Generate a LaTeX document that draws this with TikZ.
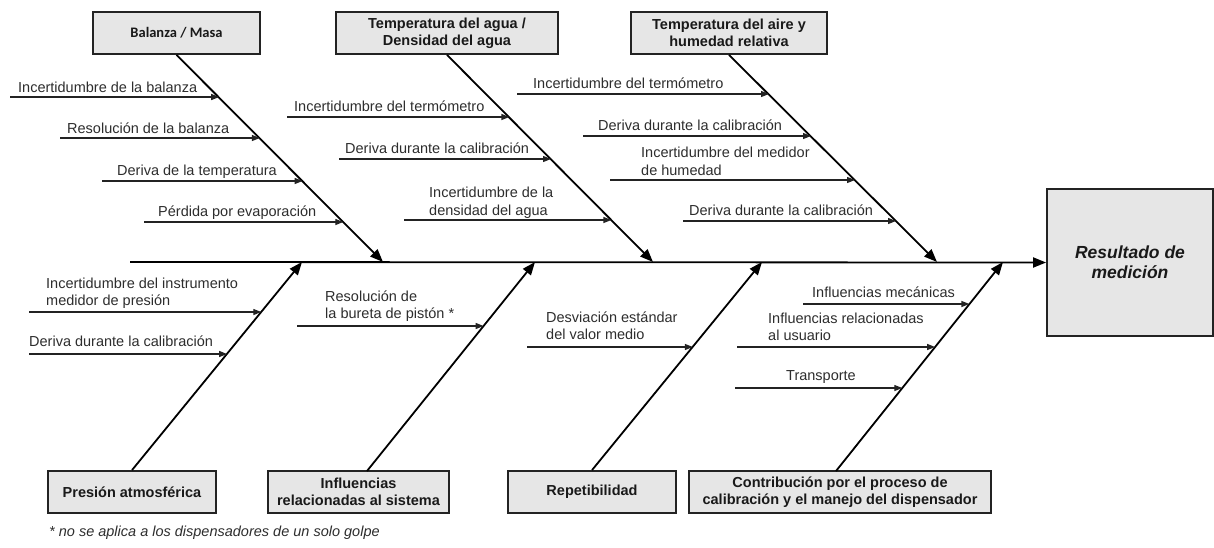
\documentclass[tikz,border=0pt]{standalone}
\usepackage{fontspec}
\setmainfont{Liberation Sans}
\newfontfamily\calibrifont{Carlito}
\usetikzlibrary{arrows.meta}
\definecolor{boxfill}{RGB}{230,230,230}
\definecolor{ink}{RGB}{35,35,35}
\definecolor{labink}{RGB}{45,45,45}
\tikzset{
  catbox/.style={draw=ink, line width=1.8pt, fill=boxfill, align=center, inner sep=0pt,
    font=\fontsize{14.5}{17}\selectfont\bfseries, text=black!90},
  mainarrow/.style={draw=black, line width=1.8pt, -{Triangle[length=13pt,width=10pt]}},
  subarrow/.style={draw=ink, line width=1.2pt, -{Triangle[length=8pt,width=6pt]}},
  lab/.style={anchor=south west, inner sep=0pt, text depth=0pt, align=left,
    font=\fontsize{14.5}{17.5}\selectfont, text=labink}
}
\begin{document}
\begin{tikzpicture}[x=1pt,y=-1pt]
\useasboundingbox (0,0) rectangle (1214,547);

% ---------- boxes ----------
\node[catbox, minimum width=167pt, minimum height=42pt, font=\fontsize{14.5}{17}\selectfont\calibrifont\bfseries] (b1) at (176.5,33) {Balanza / Masa};
\node[catbox, minimum width=222pt, minimum height=42pt] (b2) at (447,33) {Temperatura del agua /\\Densidad del agua};
\node[catbox, minimum width=196pt, minimum height=42pt] (b3) at (729,33) {Temperatura del aire y\\humedad relativa};

\node[catbox, minimum width=168pt, minimum height=42pt] (c1) at (132,492) {Presión atmosférica};
\node[catbox, minimum width=181pt, minimum height=42pt] (c2) at (358.5,492) {Influencias\\relacionadas al sistema};
\node[catbox, minimum width=168pt, minimum height=42pt] (c3) at (592,492) {Repetibilidad};
\node[catbox, minimum width=302pt, minimum height=42pt] (c4) at (840,492) {Contribución por el proceso de\\calibración y el manejo del dispensador};

\node[catbox, minimum width=166pt, minimum height=147pt, font=\fontsize{17.5}{20}\selectfont\bfseries\itshape] (res) at (1130,262.5) {Resultado de\\medición};

% ---------- spine ----------
\coordinate (s0) at (130,262);
\draw[mainarrow] (s0) -- (res.west);

% tips on the spine
\coordinate (t1) at (383,262);
\coordinate (t2) at (653,262);
\coordinate (t3) at (937,262);
\coordinate (u1) at (302,262);
\coordinate (u2) at (535,262);
\coordinate (u3) at (762,262);
\coordinate (u4) at (1003,262);
\coordinate (c2o) at (367,471);
\coordinate (c4o) at (836,471);

\draw[mainarrow] (b1.south) -- (t1);
\draw[mainarrow] (b2.south) -- (t2);
\draw[mainarrow] (b3.south) -- (t3);
\draw[mainarrow] (c1.north) -- (u1);
\draw[mainarrow] (c2o) -- (u2);
\draw[mainarrow] (c3.north) -- (u3);
\draw[mainarrow] (c4o) -- (u4);

% ---------- Balanza / Masa ----------
\coordinate (a11) at (10,97);   \coordinate (e11) at (219.2,97);
\coordinate (a12) at (60,138);  \coordinate (e12) at (259.9,138);
\coordinate (a13) at (102,181); \coordinate (e13) at (302.6,181);
\coordinate (a14) at (144,222); \coordinate (e14) at (343.3,222);
\draw[subarrow] (a11) -- (e11);
\draw[subarrow] (a12) -- (e12);
\draw[subarrow] (a13) -- (e13);
\draw[subarrow] (a14) -- (e14);
\node[lab] (l11) at (18,93) {Incertidumbre de la balanza};
\node[lab] (l12) at (67,134) {Resolución de la balanza};
\node[lab] (l13) at (117,176) {Deriva de la temperatura};
\node[lab] (l14) at (158,217) {Pérdida por evaporación};

% ---------- Temperatura del agua ----------
\coordinate (a21) at (287,117); \coordinate (e21) at (509.4,117);
\coordinate (a22) at (339,159); \coordinate (e22) at (551,159);
\coordinate (a23) at (404,220); \coordinate (e23) at (611.4,220);
\draw[subarrow] (a21) -- (e21);
\draw[subarrow] (a22) -- (e22);
\draw[subarrow] (a23) -- (e23);
\node[lab] (l21) at (294,112) {Incertidumbre del termómetro};
\node[lab] (l22) at (345,154) {Deriva durante la calibración};
\node[lab] (l23) at (429,215.5) {Incertidumbre de la\\densidad del agua};

% ---------- Temperatura del aire ----------
\coordinate (a31) at (517,94);  \coordinate (e31) at (769,94);
\coordinate (a32) at (583,136); \coordinate (e32) at (811,136);
\coordinate (a33) at (610,180); \coordinate (e33) at (855,180);
\coordinate (a34) at (683,221); \coordinate (e34) at (896,221);
\draw[subarrow] (a31) -- (e31);
\draw[subarrow] (a32) -- (e32);
\draw[subarrow] (a33) -- (e33);
\draw[subarrow] (a34) -- (e34);
\node[lab] (l31) at (533,89) {Incertidumbre del termómetro};
\node[lab] (l32) at (598,131) {Deriva durante la calibración};
\node[lab] (l33) at (641,175.5) {Incertidumbre del medidor\\de humedad};
\node[lab] (l34) at (689,216) {Deriva durante la calibración};

% ---------- Presión atmosférica ----------
\coordinate (m11a) at (29,312); \coordinate (m11e) at (261.3,312);
\coordinate (m12a) at (29,354); \coordinate (m12e) at (227.1,354);
\draw[subarrow] (m11a) -- (m11e);
\draw[subarrow] (m12a) -- (m12e);
\node[lab] (n11) at (46,306) {Incertidumbre del instrumento\\medidor de presión};
\node[lab] (n12) at (29,347) {Deriva durante la calibración};

% ---------- Influencias relacionadas al sistema ----------
\coordinate (m21a) at (297,326); \coordinate (m21e) at (483.6,326);
\draw[subarrow] (m21a) -- (m21e);
\node[lab] (n21) at (325,319) {Resolución de\\la bureta de pistón *};

% ---------- Repetibilidad ----------
\coordinate (m31a) at (527,347); \coordinate (m31e) at (692.9,347);
\draw[subarrow] (m31a) -- (m31e);
\node[lab] (n31) at (546,340) {Desviación estándar\\del valor medio};

% ---------- Contribución ----------
\coordinate (m41a) at (803,304); \coordinate (m41e) at (969.4,304);
\coordinate (m42a) at (737,347); \coordinate (m42e) at (935.1,347);
\coordinate (m43a) at (735,388); \coordinate (m43e) at (902.3,388);
\draw[subarrow] (m41a) -- (m41e);
\draw[subarrow] (m42a) -- (m42e);
\draw[subarrow] (m43a) -- (m43e);
\node[lab] (n41) at (812,298) {Influencias mecánicas};
\node[lab] (n42) at (768,341) {Influencias relacionadas\\al usuario};
\node[lab] (n43) at (786,381) {Transporte};

% ---------- footnote ----------
\node[anchor=base west, inner sep=0pt, font=\fontsize{14.5}{17}\selectfont\itshape, text=labink] (fn) at (49,536) {* no se aplica a los dispensadores de un solo golpe};
\end{tikzpicture}
\end{document}
